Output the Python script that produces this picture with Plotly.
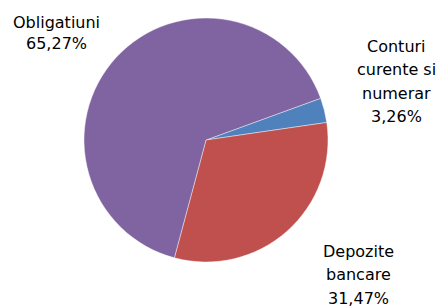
import plotly.graph_objects as go

labels = ["Conturi<br>curente si<br>numerar", "Depozite<br>bancare", "Obligatiuni"]
values = [3.26, 31.47, 65.27]
colors = ["#4F81BD", "#C0504D", "#8064A2"]

W, H = 437, 307

fig = go.Figure(go.Pie(
    labels=labels,
    values=values,
    sort=False,
    direction="clockwise",
    rotation=70,
    marker=dict(colors=colors, line=dict(color="rgba(255,255,255,0.7)", width=0.6)),
    textinfo="none",
    hoverinfo="label+percent",
    showlegend=False,
    domain=dict(x=[(206 - 124) / W, (206 + 124) / W],
                y=[(H - 140 - 122) / H, (H - 140 + 122) / H]),
))

# label block placement (pixel centre x, first line centre y, line spacing)
placements = [(396, 46, 23.5), (358, 251.5, 23.3), (56, 22, 21.5)]

annotations = []
for lab, val, (cx, y0, dy) in zip(labels, values, placements):
    lines = lab.split("<br>") + [f"{val:.2f}".replace(".", ",") + "%"]
    for i, line in enumerate(lines):
        annotations.append(dict(
            text=line, x=cx / W, y=1 - (y0 + i * dy) / H,
            xref="paper", yref="paper", xanchor="center", yanchor="middle",
            showarrow=False,
            font=dict(family="DejaVu Sans", size=16, color="#000000"),
        ))

fig.update_layout(
    width=W, height=H,
    margin=dict(l=0, r=0, t=0, b=0),
    paper_bgcolor="white", plot_bgcolor="white",
    annotations=annotations,
)

fig.write_html("out.html", config={"displayModeBar": False},
               post_script="document.body.style.margin='0';document.body.style.overflow='hidden';")
